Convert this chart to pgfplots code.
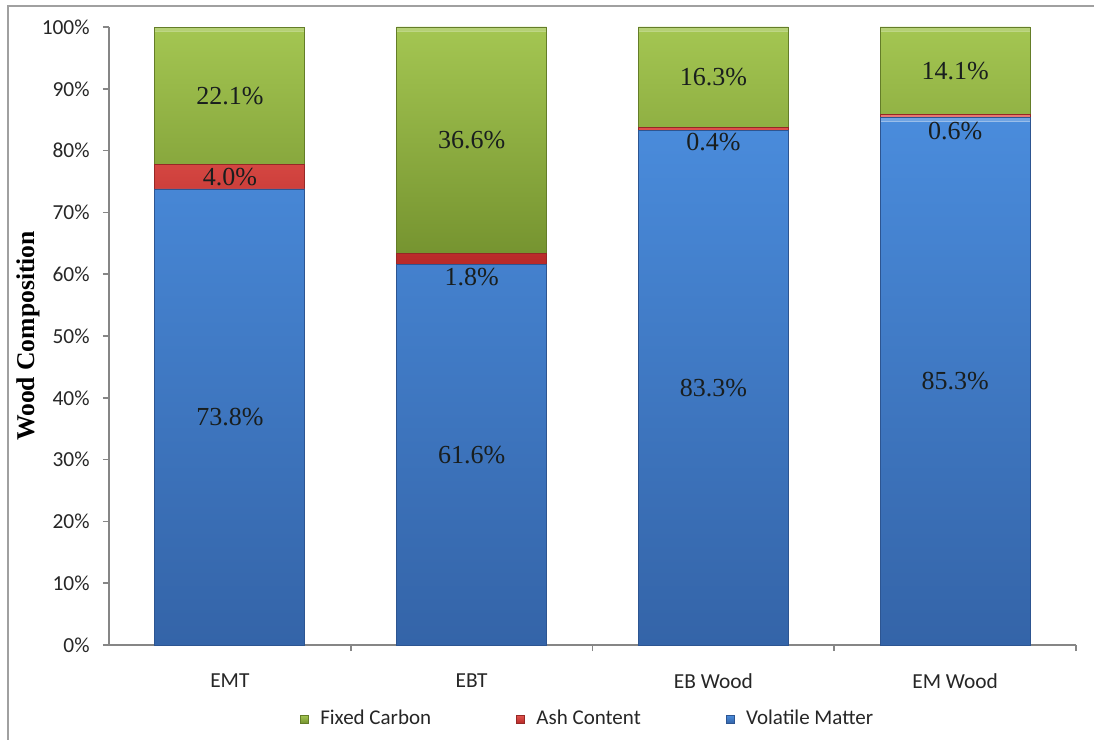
\documentclass[border=0pt]{standalone}
\usepackage{pgfplots}
\pgfplotsset{compat=1.18}
\usepackage{fontspec}
\setmainfont{Liberation Serif}
\newfontfamily\calibri{Carlito}

\definecolor{blueTop}{RGB}{74,140,220}
\definecolor{blueBot}{RGB}{52,100,168}
\definecolor{blueEdge}{RGB}{45,85,145}
\definecolor{redTop}{RGB}{226,84,78}
\definecolor{redBot}{RGB}{184,42,40}
\definecolor{redEdge}{RGB}{150,40,38}
\definecolor{greenTop}{RGB}{164,198,82}
\definecolor{greenBot}{RGB}{118,148,48}
\definecolor{greenEdge}{RGB}{100,125,40}
\definecolor{axisGray}{RGB}{134,134,134}
\definecolor{frameGray}{RGB}{160,160,160}
\definecolor{labelInk}{RGB}{25,30,30}

% composition of each sample (%), x = category index
\pgfplotstableread{
x  y
0  73.8
1  61.6
2  83.3
3  85.3
}\volatile
\pgfplotstableread{
x  y
0  4.0
1  1.8
2  0.4
3  0.6
}\ash
\pgfplotstableread{
x  y
0  22.1
1  36.6
2  16.3
3  14.1
}\fixedcarbon

% bevel: a light strip along the top edge of every bar segment
\tikzset{bevel/.style={path picture={
  \fill[path picture={}, white, opacity=0.3]
    (path picture bounding box.north west) rectangle
    ([yshift=-2pt]path picture bounding box.north east);}}}

\begin{document}
\begin{tikzpicture}
\useasboundingbox (0,0) rectangle (547pt,370pt);
% chart frame
\draw[frameGray, line width=1pt] (4pt,-2pt) -- (4pt,367pt) -- (549pt,367pt);

\begin{axis}[
  at={(54.5pt,47.5pt)}, anchor=south west,
  scale only axis, width=483.5pt, height=309pt,
  ybar stacked, bar width=75pt,
  xmin=-0.5, xmax=3.5, ymin=0, ymax=100,
  axis x line*=bottom, axis y line*=left,
  axis line style={axisGray, line width=0.8pt},
  tick style={axisGray, line width=0.8pt},
  tick align=outside, major tick length=3pt,
  xtick={0.5,1.5,2.5,3.5}, xticklabels={},
  extra x ticks={0,1,2,3},
  extra x tick labels={EMT,EBT,EB Wood,EM Wood},
  extra x tick style={major tick length=0pt,
    xticklabel style={anchor=center, yshift=-18pt}},
  ytick={0,10,...,100},
  yticklabels={0\%,10\%,20\%,30\%,40\%,50\%,60\%,70\%,80\%,90\%,100\%},
  tick label style={font=\calibri\fontsize{10.7}{12}\selectfont, text=black!85},
  yticklabel style={anchor=east, inner sep=0pt, xshift=-6.5pt},
  ylabel={Wood Composition},
  every axis y label/.style={at={(axis description cs:-0.0838,0.5)},
    rotate=90, anchor=center, font=\bfseries\fontsize{12.8}{14}\selectfont},
  legend style={at={(0.496,-0.12)}, anchor=center, draw=none,
    font=\calibri\fontsize{10.5}{12}\selectfont, text=black!85,
    legend columns=-1,
    /tikz/every even column/.append style={column sep=40.5pt}},
  legend image code/.code={\draw[#1, path picture={}] (0pt,-2pt) rectangle (4pt,2pt);
    \path (0pt,0pt) (7.7pt,0pt);},
  reverse legend,
  clip=false,
]
\addplot[top color=blueTop, bottom color=blueBot, draw=blueEdge, line width=0.4pt, bevel]
  table {\volatile};
\addlegendentry{Volatile Matter}
\addplot[top color=redTop, bottom color=redBot, draw=redEdge, line width=0.4pt, bevel]
  table {\ash};
\addlegendentry{Ash Content}
\addplot[top color=greenTop, bottom color=greenBot, draw=greenEdge, line width=0.4pt, bevel]
  table {\fixedcarbon};
\addlegendentry{Fixed Carbon}
\end{axis}

% value labels inside the segments
\begin{axis}[
  at={(54.5pt,47.5pt)}, anchor=south west,
  scale only axis, width=483.5pt, height=309pt,
  xmin=-0.5, xmax=3.5, ymin=0, ymax=100,
  hide axis, clip=false,
  nodes near coords, point meta=explicit symbolic,
  every node near coord/.append style={anchor=center,
    font=\fontsize{13}{15}\selectfont, text=labelInk},
]
\addplot[only marks, mark=none] coordinates {
  (0,36.9)  [73.8\%]
  (1,30.8)  [61.6\%]
  (2,41.65) [83.3\%]
  (3,42.65) [85.3\%]
};
\addplot[only marks, mark=none] coordinates {
  (0,75.8) [4.0\%]
  (1,59.5) [1.8\%]
  (2,81.4) [0.4\%]
  (3,83.2) [0.6\%]
};
\addplot[only marks, mark=none] coordinates {
  (0,88.85) [22.1\%]
  (1,81.7)  [36.6\%]
  (2,91.85) [16.3\%]
  (3,92.95) [14.1\%]
};
\end{axis}
\end{tikzpicture}
\end{document}
